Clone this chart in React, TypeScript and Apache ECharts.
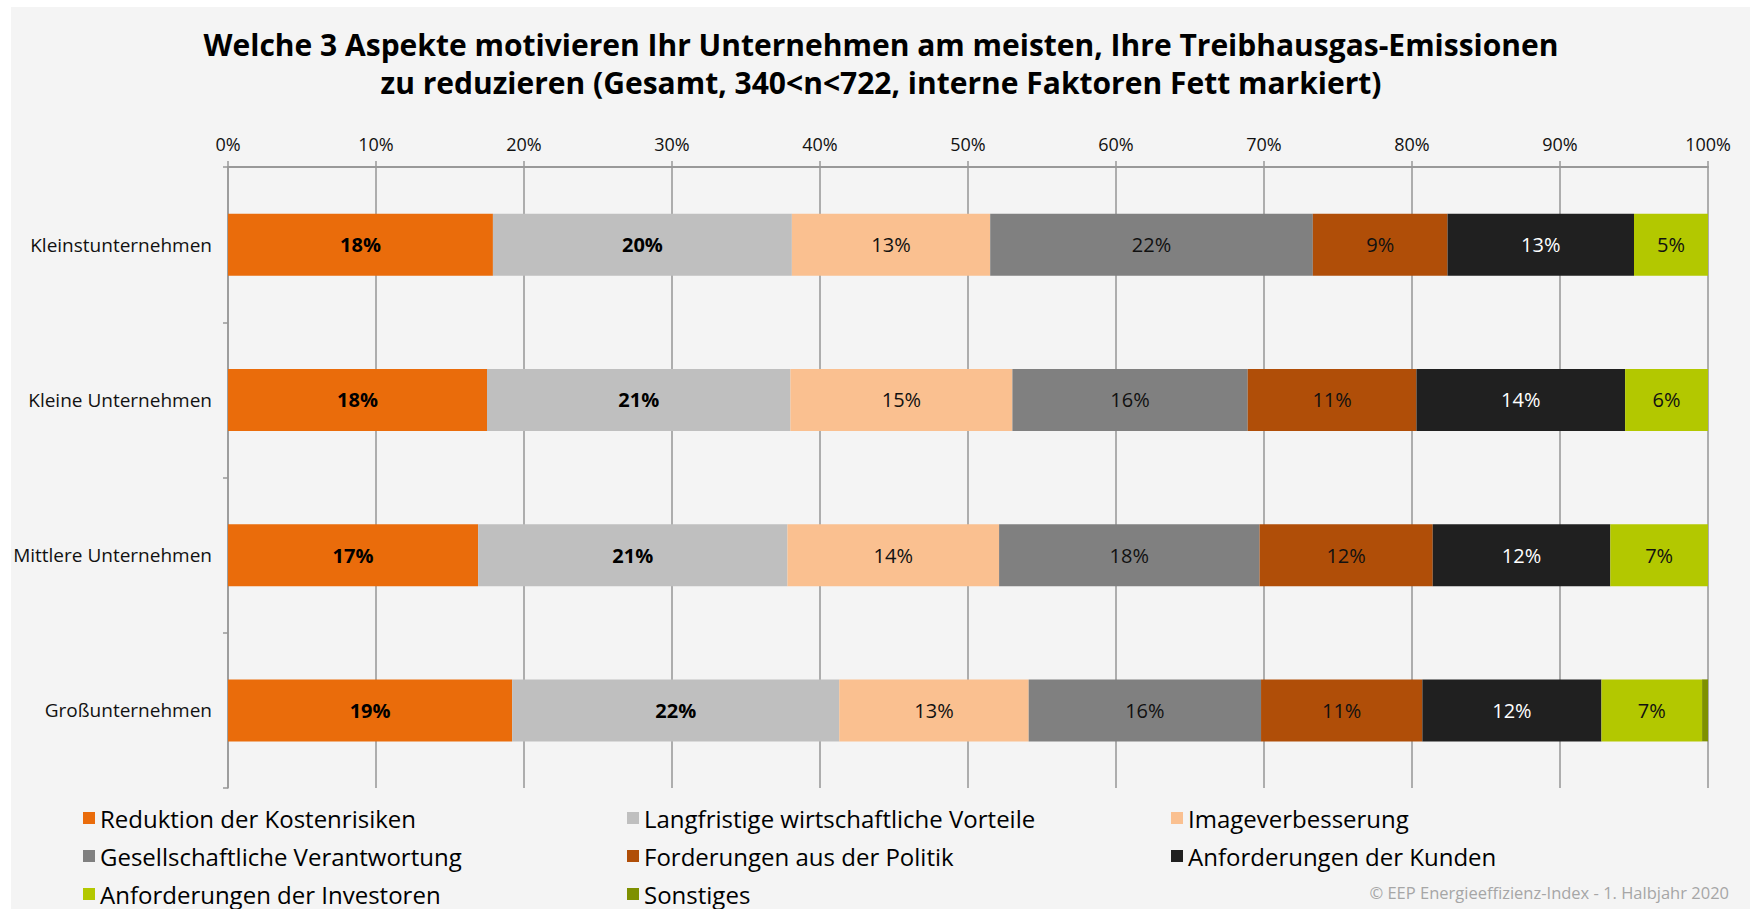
import React, { useEffect, useRef } from "react";
import * as echarts from "echarts";

const categories = ["Kleinstunternehmen", "Kleine Unternehmen", "Mittlere Unternehmen", "Großunternehmen"];
const reduktion = [17.9, 17.5, 16.9, 19.2];
const langfristig = [20.2, 20.5, 20.9, 22.1];
const image = [13.4, 15.0, 14.3, 12.8];
const gesellschaft = [21.8, 15.9, 17.6, 15.7];
const politik = [9.1, 11.4, 11.7, 10.9];
const kunden = [12.6, 14.1, 12.0, 12.1];
const investoren = [5.0, 5.6, 6.6, 6.8];
const sonstiges = [0, 0, 0, 0.4];

const seriesNames = [
  "Reduktion der Kostenrisiken",
  "Langfristige wirtschaftliche Vorteile",
  "Imageverbesserung",
  "Gesellschaftliche Verantwortung",
  "Forderungen aus der Politik",
  "Anforderungen der Kunden",
  "Anforderungen der Investoren",
  "Sonstiges",
];
const seriesData = [reduktion, langfristig, image, gesellschaft, politik, kunden, investoren, sonstiges];
const seriesColors = ["#EA6C0B", "#BFBFBF", "#FAC090", "#808080", "#B04E08", "#202020", "#B3C800", "#7E9000"];
const labelColors = ["#000", "#000", "#111", "#111", "#111", "#fff", "#111", "#111"];
const labelBold = [true, true, false, false, false, false, false, false];
const xTicks = [0, 10, 20, 30, 40, 50, 60, 70, 80, 90, 100];

const titleLines = [
  "Welche 3 Aspekte motivieren Ihr Unternehmen am meisten, Ihre Treibhausgas-Emissionen",
  "zu reduzieren (Gesamt, 340<n<722, interne Faktoren Fett markiert)",
];
const credit = "© EEP Energieeffizienz-Index - 1. Halbjahr 2020";

const FONT = "'Open Sans', sans-serif";

export default function App() {
  const ref = useRef<HTMLDivElement>(null);
  useEffect(() => {
    if (!ref.current) return;
    const chart = echarts.init(ref.current, undefined, { renderer: "svg" });
    const legendCol = (names: string[], left: number) => ({
      data: names,
      orient: "vertical",
      left,
      top: 801,
      height: 140,
      itemWidth: 12,
      itemHeight: 12,
      itemGap: 14,
      icon: "rect",
      selectedMode: false,
      textStyle: { fontSize: 24, color: "#000", fontFamily: FONT },
    });
    chart.setOption({
      animation: false,
      backgroundColor: "#ffffff",
      textStyle: { fontFamily: FONT },
      graphic: [
        { type: "rect", z: -10, shape: { x: 11, y: 7, width: 1739, height: 902 }, style: { fill: "#F4F4F4" } },
        ...titleLines.map((t, i) => ({
          type: "text",
          x: 881,
          y: 44 + i * 38,
          style: {
            text: t,
            fill: "#000",
            fontSize: 30,
            fontWeight: "bold",
            fontFamily: FONT,
            align: "center",
            verticalAlign: "middle",
          },
        })),
        {
          type: "text",
          x: 1729,
          y: 892,
          style: { text: credit, fill: "#A6A6A6", fontSize: 16.5, fontFamily: FONT, align: "right", verticalAlign: "middle" },
        },
      ],
      legend: [
        legendCol([seriesNames[0], seriesNames[3], seriesNames[6]], 78),
        legendCol([seriesNames[1], seriesNames[4], seriesNames[7]], 622),
        legendCol([seriesNames[2], seriesNames[5]], 1166),
      ],
      grid: { left: 228, right: 47, top: 167, bottom: 121, containLabel: false },
      xAxis: {
        type: "value",
        position: "top",
        min: 0,
        max: 100,
        interval: 10,
        axisLine: { show: true, lineStyle: { color: "#999", width: 2 } },
        axisTick: { show: true, length: 6, lineStyle: { color: "#999", width: 1.5 } },
        splitLine: { show: true, lineStyle: { color: "#969696", width: 1.5 } },
        axisLabel: {
          margin: 14,
          fontSize: 18,
          color: "#111",
          fontFamily: FONT,
          formatter: (v: number) => (xTicks.includes(v) ? v + "%" : ""),
        },
      },
      yAxis: {
        type: "category",
        inverse: true,
        data: categories,
        axisLine: { show: true, lineStyle: { color: "#999", width: 1.5 } },
        axisTick: { show: true, length: 5, lineStyle: { color: "#999", width: 1.5 } },
        axisLabel: { margin: 16, fontSize: 19, color: "#111", fontFamily: FONT },
      },
      series: seriesNames.map((name, i) => ({
        name,
        type: "bar",
        stack: "total",
        barWidth: 62,
        data: seriesData[i],
        itemStyle: { color: seriesColors[i] },
        label: {
          show: true,
          position: "inside",
          fontSize: 20,
          fontFamily: FONT,
          color: labelColors[i],
          fontWeight: labelBold[i] ? "bold" : "normal",
          formatter: (p: any) => (p.value >= 1 ? Math.round(p.value) + "%" : ""),
        },
      })),
    });
    return () => chart.dispose();
  }, []);
  return <div ref={ref} style={{ position: "fixed", left: 0, top: 0, width: 1755, height: 909 }} />;
}
